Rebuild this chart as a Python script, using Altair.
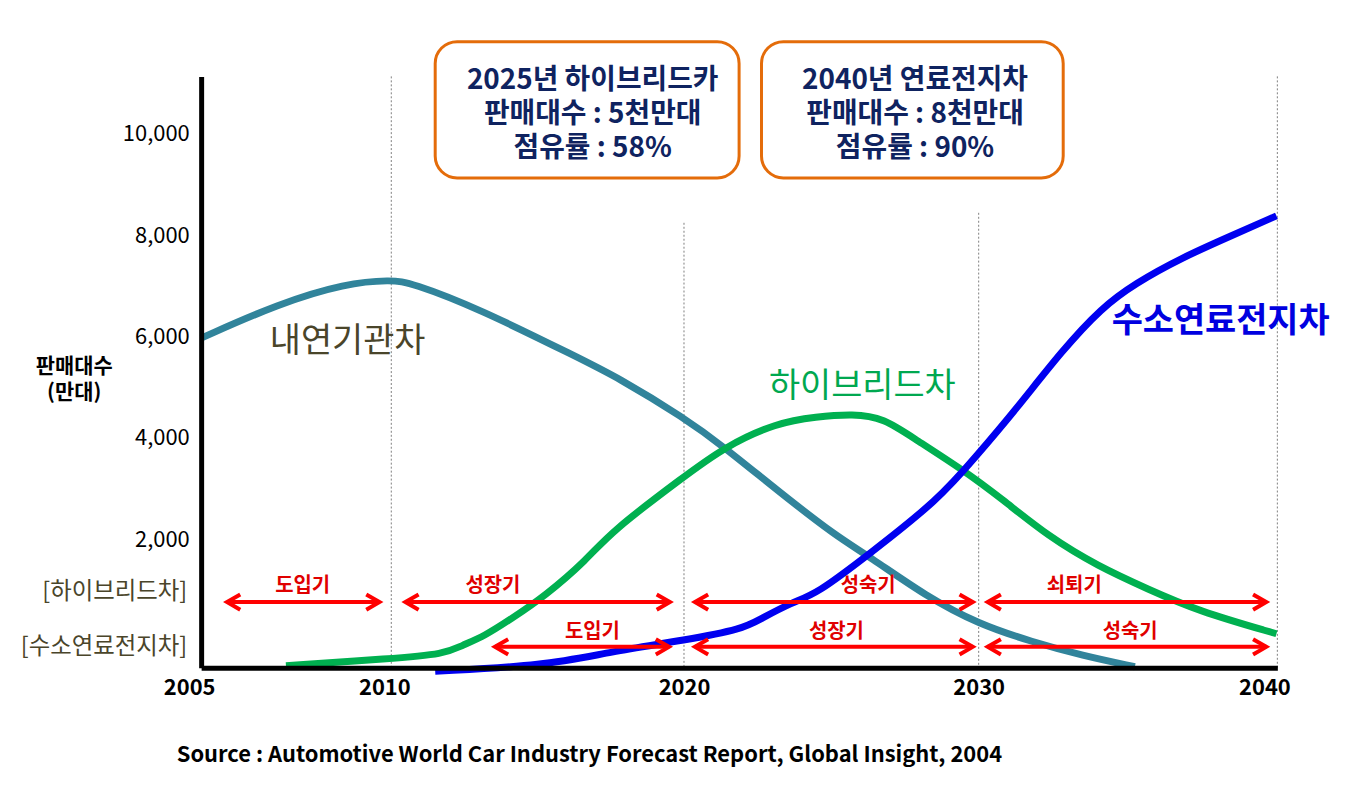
import altair as alt
import pandas as pd

FONT = "Noto Sans CJK KR"

# ---------------- data ----------------
series_names = ["내연기관차", "하이브리드차", "수소연료전지차"]
series_colors = ["#31849B", "#00B050", "#0000F0"]

ice_years = [2005.0, 2007.04, 2008.8, 2010.0, 2010.68, 2012.96, 2016.36, 2017.72, 2020.0,
             2021.39, 2023.14, 2025.17, 2026.28, 2028.21, 2030.0, 2031.8, 2033.47, 2035.23]
ice_vals = [5970, 6650, 7050, 7120, 7060, 6560, 5590, 5200, 4400,
            3810, 2980, 2060, 1670, 880, 330, -20, -290, -510]

hev_years = [2007.23, 2010.0, 2011.84, 2012.38, 2013.2, 2014.08, 2015.24, 2016.7, 2017.48,
             2020.0, 2021.39, 2023.14, 2024.49, 2025.74, 2026.76, 2027.87, 2029.46, 2030.8,
             2032.33, 2034.0, 2035.67, 2037.33, 2039.97]
hev_vals = [-490, -350, -255, -100, 100, 430, 880, 1610, 2140,
            3240, 3830, 4300, 4420, 4475, 4400, 3965, 3375, 2790,
            2060, 1470, 1020, 590, 140]

fcev_years = [2011.5, 2015.24, 2017.48, 2020.1, 2021.99, 2022.59, 2023.68, 2024.49, 2026.28,
              2028.65, 2029.9, 2031.23, 2032.8, 2034.13, 2035.23, 2036.8, 2038.47, 2039.97]
fcev_vals = [-600, -490, -215, 20, 235, 430, 765, 920, 1710,
             2790, 3630, 4550, 5730, 6575, 7045, 7555, 7990, 8380]

x_ticks = [2005, 2010, 2020, 2030, 2040]
y_ticks = [2000, 4000, 6000, 8000, 10000]

# vertical reference lines
ref_years = [2010, 2020, 2030, 2040]
ref_tops = [11130, 8243, 8440, 11130]

# life-cycle arrows
arrow_rows = ["하이브리드차", "하이브리드차", "하이브리드차", "하이브리드차",
              "수소연료전지차", "수소연료전지차", "수소연료전지차"]
arrow_stage = ["도입기", "성장기", "성숙기", "쇠퇴기", "도입기", "성장기", "성숙기"]
arrow_start = [2005.68, 2010.48, 2020.37, 2030.30, 2013.54, 2020.37, 2030.30]
arrow_end = [2009.69, 2019.52, 2029.80, 2039.63, 2019.49, 2029.80, 2039.63]
arrow_label_year = [2007.67, 2013.47, 2026.25, 2033.2, 2016.87, 2025.17, 2035.07]

# callout boxes
box_lines = [["2025년 하이브리드카", "판매대수 : 5천만대", "점유률 : 58%"],
             ["2040년 연료전지차", "판매대수 : 8천만대", "점유률 : 90%"]]

source_text = "Source : Automotive World Car Industry Forecast Report, Global Insight,  2004"

# ---------------- layout / style constants ----------------
W, H = 1081, 594
row_level = {"하이브리드차": 765, "수소연료전지차": -118}
row_label_level = {"하이브리드차": 1080, "수소연료전지차": 177}
row_name_level = {"하이브리드차": 962, "수소연료전지차": -118}
curve_label_pos = {"내연기관차": (2008.85, 5888), "하이브리드차": (2026.05, 5005),
                   "수소연료전지차": (2038.1, 6281)}
curve_label_style = {"내연기관차": ("#4A452A", "normal"), "하이브리드차": ("#00A850", "normal"),
                     "수소연료전지차": ("#0000E0", "bold")}
box_x = [(2011.5, 2021.87), (2022.63, 2032.83)]
box_center = [2016.88, 2027.84]
box_y = (11815, 9127)
box_text_level = 11030

xscale = alt.Scale(domain=[2005, 2010, 2020, 2030, 2040], range=[0, 191, 485, 781, 1081])
yscale = alt.Scale(domain=[-530, 11130], nice=False, zero=False)

xaxis = alt.Axis(values=x_ticks, labelExpr="format(datum.value, 'd')", title=None, ticks=False,
                 grid=False, domainColor="black", domainWidth=5, labelFont=FONT, labelFontSize=22,
                 labelFontWeight="bold", labelColor="black", labelPadding=10, zindex=1,
                 labelFlush=False,
                 labelOffset={"condition": [{"test": "datum.value == 2005", "value": -12},
                                            {"test": "datum.value == 2010", "value": -7},
                                            {"test": "datum.value == 2040", "value": -13}],
                              "value": 0})
yaxis = alt.Axis(values=y_ticks, labelExpr="format(datum.value, ',')", title=["판매대수", "(만대)"],
                 ticks=False, grid=False, domainColor="black", domainWidth=5, labelFont=FONT,
                 labelFontSize=22, labelColor="black", labelPadding=12, zindex=1, labelFlush=False,
                 titleAngle=0, titleX=-128, titleY=291, titleAlign="center",
                 titleBaseline="middle", titleFont=FONT, titleFontSize=21,
                 titleFontWeight="bold", titleColor="black", titleLineHeight=27)


def X(field):
    return alt.X(field, type="quantitative", scale=xscale, axis=xaxis)


def Y(field):
    return alt.Y(field, type="quantitative", scale=yscale, axis=yaxis)


# ---------------- tables ----------------
lines_df = pd.concat([
    pd.DataFrame({"year": ice_years, "value": ice_vals, "series": series_names[0]}),
    pd.DataFrame({"year": hev_years, "value": hev_vals, "series": series_names[1]}),
    pd.DataFrame({"year": fcev_years, "value": fcev_vals, "series": series_names[2]}),
], ignore_index=True)
lines_df["order"] = range(len(lines_df))

ref_df = pd.DataFrame({"year": ref_years, "top": ref_tops, "bottom": -530})

arrows_df = pd.DataFrame({
    "start": arrow_start, "end": arrow_end,
    "level": [row_level[r] for r in arrow_rows],
    "stage": arrow_stage, "lx": arrow_label_year,
    "ly": [row_label_level[r] for r in arrow_rows],
})
heads_df = pd.concat([
    pd.DataFrame({"year": arrow_start, "level": arrows_df["level"], "dir": "L"}),
    pd.DataFrame({"year": arrow_end, "level": arrows_df["level"], "dir": "R"}),
], ignore_index=True)

rowname_df = pd.DataFrame({"name": ["[하이브리드차]", "[수소연료전지차]"],
                           "level": [row_name_level["하이브리드차"], row_name_level["수소연료전지차"]]})

box_df = pd.DataFrame({"x0": [b[0] for b in box_x], "x1": [b[1] for b in box_x],
                       "y0": box_y[0], "y1": box_y[1]})
boxtext_df = pd.DataFrame({"x": box_center, "y": box_text_level,
                           "t": ["\n".join(lines) for lines in box_lines]})

# ---------------- layers ----------------
refs = alt.Chart(ref_df).mark_rule(color="#7F7F7F", strokeWidth=1, strokeDash=[2, 2]).encode(
    x=X("year"), y=Y("top"), y2="bottom")

boxes = alt.Chart(box_df).mark_rect(cornerRadius=22, fill="white", stroke="#E46C0A",
                                    strokeWidth=3).encode(x=X("x0"), x2="x1", y=Y("y0"), y2="y1")

box_texts = alt.Chart(boxtext_df).mark_text(font=FONT, fontSize=28, fontWeight="bold",
                                            color="#0F2360", baseline="middle",
                                            lineBreak="\n", lineHeight=34).encode(
    x=X("x"), y=Y("y"), text="t:N")

lines = alt.Chart(lines_df).mark_line(strokeWidth=7, interpolate="basis").encode(
    x=X("year"), y=Y("value"),
    color=alt.Color("series:N", scale=alt.Scale(domain=series_names, range=series_colors), legend=None),
    order="order:Q",
)

shafts = alt.Chart(arrows_df).mark_rule(color="#FF0000", strokeWidth=4).encode(
    x=X("start"), x2="end", y=Y("level"))

heads = alt.Chart(heads_df).mark_point(filled=False, color="#FF0000", strokeWidth=4, size=196,
                                       opacity=1, strokeJoin="miter").encode(
    x=X("year"), y=Y("level"),
    shape=alt.Shape("dir:N", scale=alt.Scale(domain=["L", "R"],
                                             range=["M1.9,-1.1L0,0L1.9,1.1", "M-1.9,-1.1L0,0L-1.9,1.1"]),
                    legend=None))

stage_labels = alt.Chart(arrows_df).mark_text(font=FONT, fontSize=20, fontWeight="bold",
                                              color="#E00000", baseline="middle").encode(
    x=X("lx"), y=Y("ly"), text="stage:N")

rownames = alt.Chart(rowname_df).mark_text(font=FONT, fontSize=23.5, color="#4A452A", align="right",
                                           baseline="middle").encode(
    x=alt.value(-14), y=Y("level"), text="name:N")

curve_labels = []
for name in series_names:
    cx, cy = curve_label_pos[name]
    col, wt = curve_label_style[name]
    curve_labels.append(
        alt.Chart(pd.DataFrame({"x": [cx], "y": [cy], "t": [name]})).mark_text(
            font=FONT, fontSize=34, fontWeight=wt, color=col, baseline="middle").encode(
            x=X("x"), y=Y("y"), text="t:N"))

source = alt.Chart(pd.DataFrame({"t": [source_text]})).mark_text(
    font=FONT, fontSize=22, fontWeight="bold", color="black", baseline="middle").encode(
    x=alt.value(390), y=alt.value(682), text="t:N")

chart = alt.layer(refs, lines, boxes, box_texts, shafts, heads, stage_labels, rownames,
                  *curve_labels, source).properties(
    width=W, height=H,
    autosize=alt.AutoSizeParams(type="none"),
    padding={"left": 194, "top": 67, "right": 80, "bottom": 100},
    background="white",
).configure_view(strokeWidth=0)

chart.save("out.html", embed_options={"renderer": "svg", "actions": False})
